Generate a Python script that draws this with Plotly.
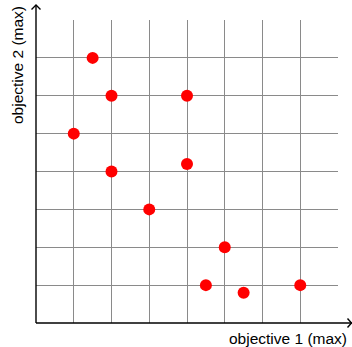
import plotly.graph_objects as go

# Data (grid units)
obj1 = [1, 1.5, 2, 2, 3, 4, 4, 4.5, 5, 5.5, 7]
obj2 = [5, 7, 6, 4, 3, 6, 4.2, 1, 2, 0.8, 1]
x_label = "objective 1 (max)"
y_label = "objective 2 (max)"

fig = go.Figure()
fig.add_trace(go.Scatter(
    x=obj1, y=obj2, mode="markers",
    marker=dict(color="#ff0000", size=12, line=dict(width=0)),
    showlegend=False, cliponaxis=False,
))

W, H = 352, 347
ml, mr, mt, mb = 36, 14, 20, 24
pw, ph = W - ml - mr, H - mt - mb

def px(x):
    return (x - ml) / pw

def py(y):
    return (H - mb - y) / ph

axis_style = dict(range=[0, 8], dtick=1, tick0=0, showgrid=True,
                  gridcolor="#8a8a8a", gridwidth=1, showticklabels=False,
                  ticks="", zeroline=False, showline=False, fixedrange=True)
fig.update_xaxes(**axis_style)
fig.update_yaxes(**axis_style)

line = dict(color="black", width=1.4)
shapes = [
    dict(type="line", xref="paper", yref="paper", x0=0, y0=0, x1=px(352), y1=0, line=line),
    dict(type="path", xref="paper", yref="paper",
         path=f"M {px(347.5)},{py(318.5)} L {px(351.5)},{py(323)} L {px(347.5)},{py(327.5)}", line=line),
    dict(type="line", xref="paper", yref="paper", x0=0, y0=0, x1=0, y1=py(5), line=line),
    dict(type="path", xref="paper", yref="paper",
         path=f"M {px(31.5)},{py(9.5)} L {px(36)},{py(5)} L {px(40.5)},{py(9.5)}", line=line),
]

font = dict(family="Liberation Sans, Arial, sans-serif", size=15.5, color="black")
annotations = [
    dict(text=x_label, xref="paper", yref="paper", x=px(349), y=py(338),
         xanchor="right", yanchor="middle", showarrow=False, font=font),
    dict(text=y_label, xref="paper", yref="paper", x=px(17), y=py(4),
         xanchor="center", yanchor="top", textangle=-90, showarrow=False, font=font),
]

fig.update_layout(
    width=W, height=H,
    margin=dict(l=ml, r=mr, t=mt, b=mb, pad=0),
    plot_bgcolor="white", paper_bgcolor="white",
    shapes=shapes, annotations=annotations,
)

fig.write_html("out.html", config={"displayModeBar": False},
               post_script="document.body.style.margin='0';")
